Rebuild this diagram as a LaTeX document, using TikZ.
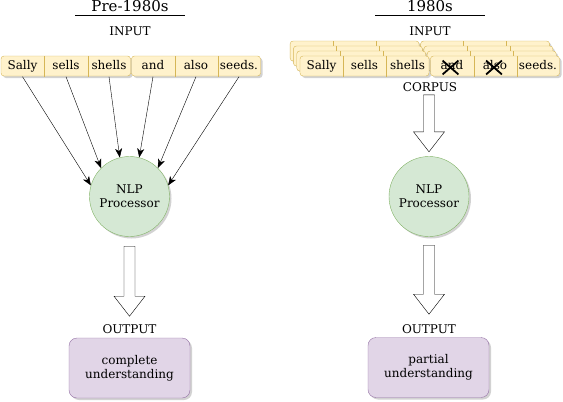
\documentclass[tikz,border=0pt]{standalone}
\usepackage{fontspec}
\setmainfont{DejaVu Serif}
\usetikzlibrary{positioning,calc,shadows,arrows.meta,shapes.misc}

\definecolor{wordfill}{HTML}{FFF2CC}
\definecolor{wordline}{HTML}{D6B656}
\definecolor{procfill}{HTML}{D5E8D4}
\definecolor{procline}{HTML}{82B366}
\definecolor{resfill}{HTML}{E1D5E7}
\definecolor{resline}{HTML}{9673A6}

\tikzset{
  softshadow/.style={drop shadow={shadow xshift=2pt, shadow yshift=-2pt, opacity=0.25, fill=black!70}},
  wordgrp/.style={draw=wordline, fill=wordfill, rounded corners=3pt, softshadow},
  word/.style={minimum width=43pt, minimum height=20pt, inner sep=0pt, text height=9pt, text depth=2.5pt},
  wordsep/.style={draw=wordline},
  proc/.style={circle, draw=procline, fill=procfill, minimum size=80pt, inner sep=0pt, align=center, softshadow},
  result/.style={draw=resline, fill=resfill, rounded corners=8pt, minimum width=121pt, minimum height=60pt, align=center, softshadow},
  tag/.style={inner sep=0pt},
  era/.style={inner sep=0pt, font=\fontsize{15}{18}\selectfont},
  feed/.style={-{Stealth[length=9pt,width=7pt,inset=2.5pt]}},
  bigarrow/.style={draw, fill=white, line join=miter},
  xmark/.style={cross out, draw, line width=1.8pt, minimum width=14pt, minimum height=12pt, inner sep=0pt}
}

\begin{document}
\begin{tikzpicture}[x=1pt, y=-1pt, font=\fontsize{12}{14}\selectfont]
\useasboundingbox (0,0) rectangle (563,402);

% pre-1980s
\node[era] (eraA) at (130,6.5) {Pre-1980s};
\draw (75,15) -- (185,15);
\node[tag] (inputA) at (130,31) {INPUT};

\draw[wordgrp] (1,56) rectangle (130.5,76);
\draw[wordgrp] (131.5,56) rectangle (260.5,76);
\node[word] (sallyA) at (22.5,66.5) {Sally};
\node[word] (sellsA) at (66,66.5) {sells};
\node[word] (shellsA) at (109,66.5) {shells};
\node[word] (andA) at (153,66.5) {and};
\node[word] (alsoA) at (196,66.5) {also};
\node[word] (seedsA) at (239,66.5) {seeds.};
\foreach \w in {sallyA,sellsA,andA,alsoA}
  \draw[wordsep] (\w.north east) -- (\w.south east);

\node[proc] (nlpA) at (129.5,196.5) {NLP\\Processor};

\draw[feed] (sallyA.south) -- (nlpA.164);
\draw[feed] (sellsA.south) -- (nlpA.135);
\draw[feed] (shellsA.south) -- (nlpA.104);
\draw[feed] (andA.south) -- (nlpA.76);
\draw[feed] (alsoA.south) -- (nlpA.45);
\draw[feed] (seedsA.south) -- (nlpA.16);

\draw[bigarrow] ($(nlpA.south)+(-5.5,9.5)$) -- ++(11,0) -- ++(0,50) -- ++(10,0)
  -- ++(-15.5,20) -- ++(-15.5,-20) -- ++(10,0) -- cycle;

\node[tag] (outputA) at (129.5,329) {OUTPUT};
\node[result] (resA) at (129.5,368) {complete\\understanding};

% 1980s
\node[era] (eraB) at (430,6.5) {1980s};
\draw (375,15) -- (485,15);
\node[tag] (inputB) at (430,31) {INPUT};

% corpus copies behind
\foreach \k in {3,2,1}{
  \begin{scope}[shift={(-3.3*\k,-5*\k)}]
    \draw[wordgrp] (300,56) rectangle (429,76);
    \draw[wordgrp] (430.5,56) rectangle (559.5,76);
    \foreach \d in {343,386,473.5,516.5}
      \draw[wordsep] (\d,56) -- (\d,76);
  \end{scope}
}

\draw[wordgrp] (300,56) rectangle (429,76);
\draw[wordgrp] (430.5,56) rectangle (559.5,76);
\node[word] (sallyB) at (321.5,66.5) {Sally};
\node[word] (sellsB) at (364.5,66.5) {sells};
\node[word] (shellsB) at (407.5,66.5) {shells};
\node[word] (andB) at (452,66.5) {and};
\node[word] (alsoB) at (495,66.5) {also};
\node[word] (seedsB) at (538,66.5) {seeds.};
\foreach \w in {sallyB,sellsB,andB,alsoB}
  \draw[wordsep] (\w.north east) -- (\w.south east);
\node[xmark] (xand) at (450.5,67.5) {};
\node[xmark] (xalso) at (494,67.5) {};

\node[tag] (corpus) at (430,87) {CORPUS};

\node[proc] (nlpB) at (429,196.5) {NLP\\Processor};

\draw[bigarrow] ($(nlpB.north)+(-5.5,-61.5)$) -- ++(11,0) -- ++(0,37) -- ++(10,0)
  -- ++(-15.5,20) -- ++(-15.5,-20) -- ++(10,0) -- cycle;
\draw[bigarrow] ($(nlpB.south)+(-5.5,8.5)$) -- ++(11,0) -- ++(0,49) -- ++(10,0)
  -- ++(-15.5,20) -- ++(-15.5,-20) -- ++(10,0) -- cycle;

\node[tag] (outputB) at (429,329) {OUTPUT};
\node[result] (resB) at (428.5,367.5) {partial\\understanding};
\end{tikzpicture}
\end{document}
